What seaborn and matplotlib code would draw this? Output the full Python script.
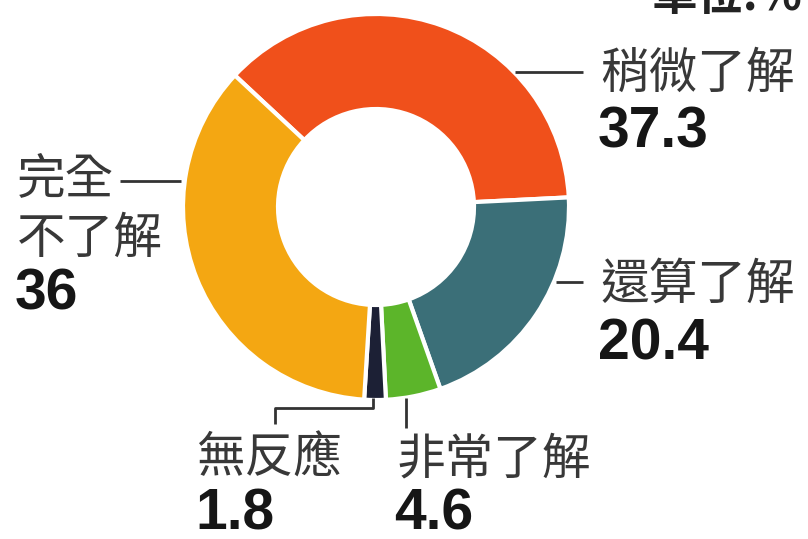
import matplotlib
matplotlib.use("Agg")
import matplotlib.pyplot as plt
import seaborn as sns

# data (unit: %)
categories = ["稍微了解", "還算了解", "非常了解", "無反應", "完全不了解"]
values = [37.3, 20.4, 4.6, 1.8, 36]
colors = ["#f0501b", "#3b6f78", "#5cb52a", "#1c2035", "#f4a712"]

sns.set_theme(style="white")
plt.rcParams["font.family"] = ["Noto Sans CJK TC", "DejaVu Sans"]

W, H = 808, 539
fig = plt.figure(figsize=(W / 100, H / 100), dpi=100)
ax = fig.add_axes([0, 0, 1, 1])


def Y(py):
    # pixel row (from top) -> data y
    return H - py


ax.pie(values, colors=colors, startangle=137, counterclock=False,
       radius=193, center=(376, Y(207)),
       wedgeprops=dict(width=95, edgecolor="white", linewidth=3))
ax.set_xlim(0, W)
ax.set_ylim(0, H)
ax.set_aspect("auto")
ax.axis("off")

lab_kw = dict(fontsize=35, color="#383838", fontweight="medium",
              family=["Noto Sans CJK TC", "DejaVu Sans"])
num_kw = dict(fontsize=41, color="#161616", fontweight="bold",
              family=["Liberation Sans", "DejaVu Sans"])

# label layout: (x, label lines, label baselines, number baseline)
layout = {
    "稍微了解": (600, ["稍微了解"], [88], 147),
    "還算了解": (600, ["還算了解"], [299], 360),
    "完全不了解": (17, ["完全", "不了解"], [193, 253], 309),
    "無反應": (197, ["無反應"], [473], 530),
    "非常了解": (396, ["非常了解"], [473], 530),
}

for cat, val in zip(categories, values):
    x, lines, bases, nb = layout[cat]
    for t, b in zip(lines, bases):
        ax.text(x, Y(b), t, ha="left", va="baseline", **lab_kw)
    ax.text(x - 2, Y(nb), f"{val:g}", ha="left", va="baseline", **num_kw)

# leader lines
line_kw = dict(color="#333333", lw=2, solid_capstyle="butt")
ax.plot([515, 583], [Y(72), Y(72)], **line_kw)
ax.plot([556, 583], [Y(282), Y(282)], **line_kw)
ax.plot([120, 181], [Y(181), Y(181)], **line_kw)
ax.plot([373, 373, 275, 275], [Y(398), Y(408), Y(408), Y(424)], **line_kw)
ax.plot([406, 406], [Y(398), Y(428)], **line_kw)

# unit note, partly cut at the top edge as in the source
ax.text(652, Y(10), "單位:%", ha="left", va="baseline", fontsize=33,
        fontweight="bold", color="#222222",
        family=["Noto Sans CJK TC", "DejaVu Sans"])

fig.savefig("out.png", dpi=100, facecolor="white")
